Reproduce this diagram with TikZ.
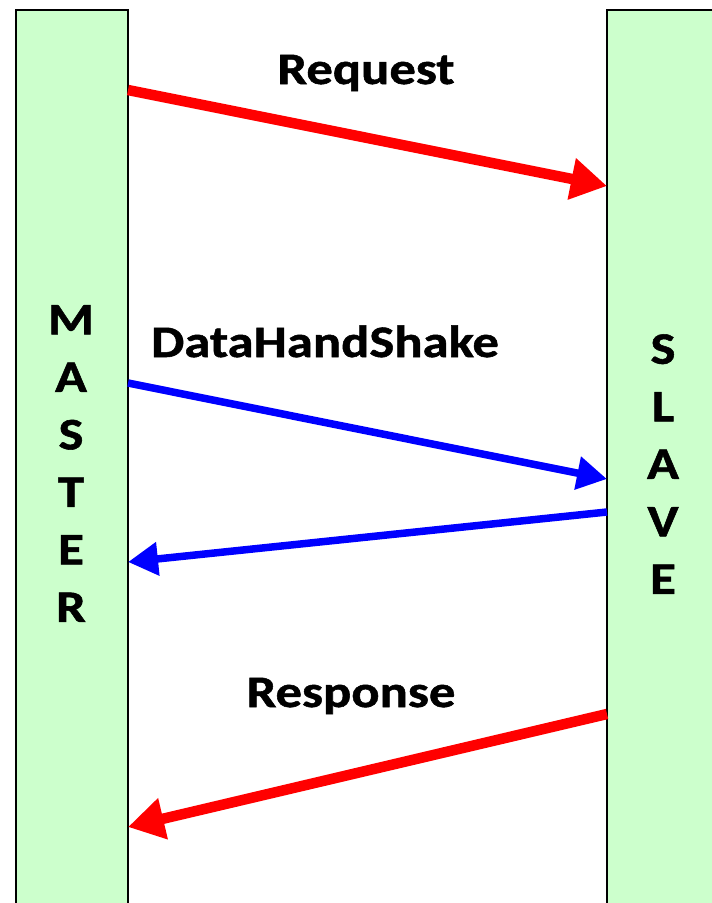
\documentclass[tikz,border=0pt]{standalone}
\usepackage{fontspec}
\setmainfont{Carlito}[FakeStretch=1.17, BoldFeatures={FakeBold=1.2}]
\usetikzlibrary{arrows.meta}
\definecolor{barfill}{HTML}{CCFFCC}
\tikzset{
  bar/.style={draw=black, line width=2.5pt, fill=barfill},
  redarrow/.style={draw=red, line width=10.5pt, -{Triangle[length=36pt,width=40pt]}},
  bluearrow/.style={draw=blue, line width=7.5pt, -{Triangle[length=30pt,width=32pt]}},
  lbl/.style={font=\fontsize{45}{54}\selectfont\bfseries, inner sep=0pt, anchor=base},
  vlbl/.style={font=\fontsize{45}{57.5}\selectfont\bfseries, inner sep=0pt, align=center}
}
\begin{document}
\begin{tikzpicture}[x=1pt,y=-1pt]
\useasboundingbox (0,0) rectangle (712,903);
\begin{scope}
\clip (0,0) rectangle (712,903);
\path[bar] (16,10) rectangle (128,930);
\path[bar] (607,10) rectangle (740,930);
\end{scope}
% endpoints
\coordinate (m1) at (128,90);
\coordinate (s1) at (607,186);
\coordinate (m2) at (128,383);
\coordinate (s2) at (607,479);
\coordinate (s3) at (607,512);
\coordinate (m3) at (128,562);
\coordinate (s4) at (607,714);
\coordinate (m4) at (128,827);
\draw[redarrow] (m1) -- (s1);
\draw[bluearrow] (m2) -- (s2);
\draw[bluearrow] (s3) -- (m3);
\draw[redarrow] (s4) -- (m4);
\node[lbl] (req) at (366,84) {Request};
\node[lbl] (dhs) at (325,357) {DataHandShake};
\node[lbl] (resp) at (351,707) {Response};
\node[vlbl] (master) at (71,463.5) {M\\A\\S\\T\\E\\R};
\node[vlbl] (slave) at (663,464) {S\\L\\A\\V\\E};
\end{tikzpicture}
\end{document}
